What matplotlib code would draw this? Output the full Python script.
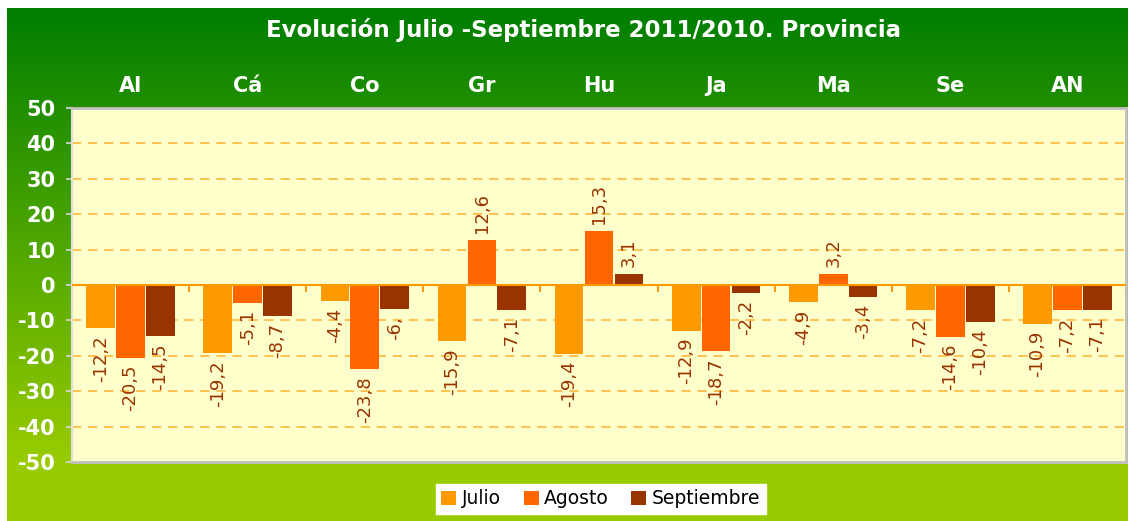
import numpy as np
import matplotlib
matplotlib.use("Agg")
import matplotlib.pyplot as plt
from matplotlib.colors import LinearSegmentedColormap

categories = ["Al", "Cá", "Co", "Gr", "Hu", "Ja", "Ma", "Se", "AN"]
julio = [-12.2, -19.2, -4.4, -15.9, -19.4, -12.9, -4.9, -7.2, -10.9]
agosto = [-20.5, -5.1, -23.8, 12.6, 15.3, -18.7, 3.2, -14.6, -7.2]
septiembre = [-14.5, -8.7, -6.8, -7.1, 3.1, -2.2, -3.4, -10.4, -7.1]
series_names = ["Julio", "Agosto", "Septiembre"]
title = "Evolución Julio -Septiembre 2011/2010. Provincia"
yticks = [-50, -40, -30, -20, -10, 0, 10, 20, 30, 40, 50]
# label text override where the reference label is clipped
label_override = {(2, 2): "-6,"}

colors = ["#FF9900", "#FF6600", "#993300"]

W, H = 1128, 521
fig = plt.figure(figsize=(W / 100, H / 100), dpi=100)
fig.patch.set_facecolor("white")

# green gradient background
bg = fig.add_axes([7 / W, 0, 1 - 7 / W, 1 - 8 / H])
bg.set_axis_off()
cmap = LinearSegmentedColormap.from_list("g", ["#007E00", "#99CC00"])
n = 513
grad = np.clip(np.linspace(0, 1, n) / (457 / 513), 0, 1).reshape(-1, 1)
bg.imshow(grad, aspect="auto", cmap=cmap, extent=[0, 1, 0, 1], origin="upper")
bg.set_xlim(0, 1)
bg.set_ylim(0, 1)

ax = fig.add_axes([72 / W, 1 - 462 / H, (1126 - 72) / W, (462 - 108) / H])
ax.set_facecolor("#FFFFCC")
x = np.arange(len(categories))
width = 0.245
offs = [-0.255, 0.0, 0.255]
for si, (vals, c, name) in enumerate(zip([julio, agosto, septiembre], colors, series_names)):
    bars = ax.bar(x + offs[si], vals, width, color=c, label=name, zorder=3)
    for ci, (b, v) in enumerate(zip(bars, vals)):
        txt = label_override.get((ci, si), f"{v:.1f}".replace(".", ","))
        if v < 0:
            ax.annotate(txt, (b.get_x() + b.get_width() / 2, v), xytext=(0, -5),
                        textcoords="offset points", rotation=90, ha="center", va="top",
                        fontsize=13, color="#993300", zorder=4)
        else:
            ax.annotate(txt, (b.get_x() + b.get_width() / 2, v), xytext=(0, 5),
                        textcoords="offset points", rotation=90, ha="center", va="bottom",
                        fontsize=13, color="#993300", zorder=4)

ax.set_xlim(-0.5, len(categories) - 0.5)
ax.set_ylim(-50, 50)
ax.set_yticks(yticks)
ax.set_yticklabels([str(t) for t in yticks])
for t in yticks:
    if t not in (0, -50, 50):
        ax.axhline(t, color="#FFB030", lw=1.1, dashes=(6, 4.5), zorder=1)
ax.axhline(0, color="#FF9900", lw=1.5, zorder=5)

ax.tick_params(axis="y", colors="#D8D8D8", labelcolor="white", labelsize=15,
               length=4, width=1.2, pad=8)
for lab in ax.get_yticklabels():
    lab.set_fontweight("bold")

ax.xaxis.tick_top()
ax.set_xticks(x)
ax.set_xticklabels(categories, fontsize=15, fontweight="bold", color="white")
ax.tick_params(axis="x", length=0, pad=9)

for s in ["top", "right", "bottom"]:
    ax.spines[s].set_color("#C0C0C0")
    ax.spines[s].set_linewidth(2)
ax.spines["left"].set_color("#E0E0E0")
ax.spines["left"].set_linewidth(1.5)

# category boundary ticks on the zero line
sec = ax.secondary_xaxis(0.5)
sec.set_xticks(np.arange(len(categories) + 1) - 0.5)
sec.set_xticklabels([])
sec.tick_params(axis="x", length=5, width=1.5, color="#FF9900", direction="in")
for s in sec.spines.values():
    s.set_visible(False)

fig.text(583 / W, 1 - 30 / H, title, ha="center", va="center", fontsize=16.5,
         fontweight="bold", color="white")

leg = fig.legend(loc="center", bbox_to_anchor=(601 / W, 1 - 499 / H), ncol=3,
                 fontsize=13.5, frameon=True, fancybox=False, handlelength=0.8,
                 handleheight=0.8, handletextpad=0.3, columnspacing=1.2,
                 borderpad=0.3, borderaxespad=0)
leg.get_frame().set_facecolor("white")
leg.get_frame().set_edgecolor("white")
leg.get_frame().set_alpha(1)

fig.savefig("out.png", dpi=100)
